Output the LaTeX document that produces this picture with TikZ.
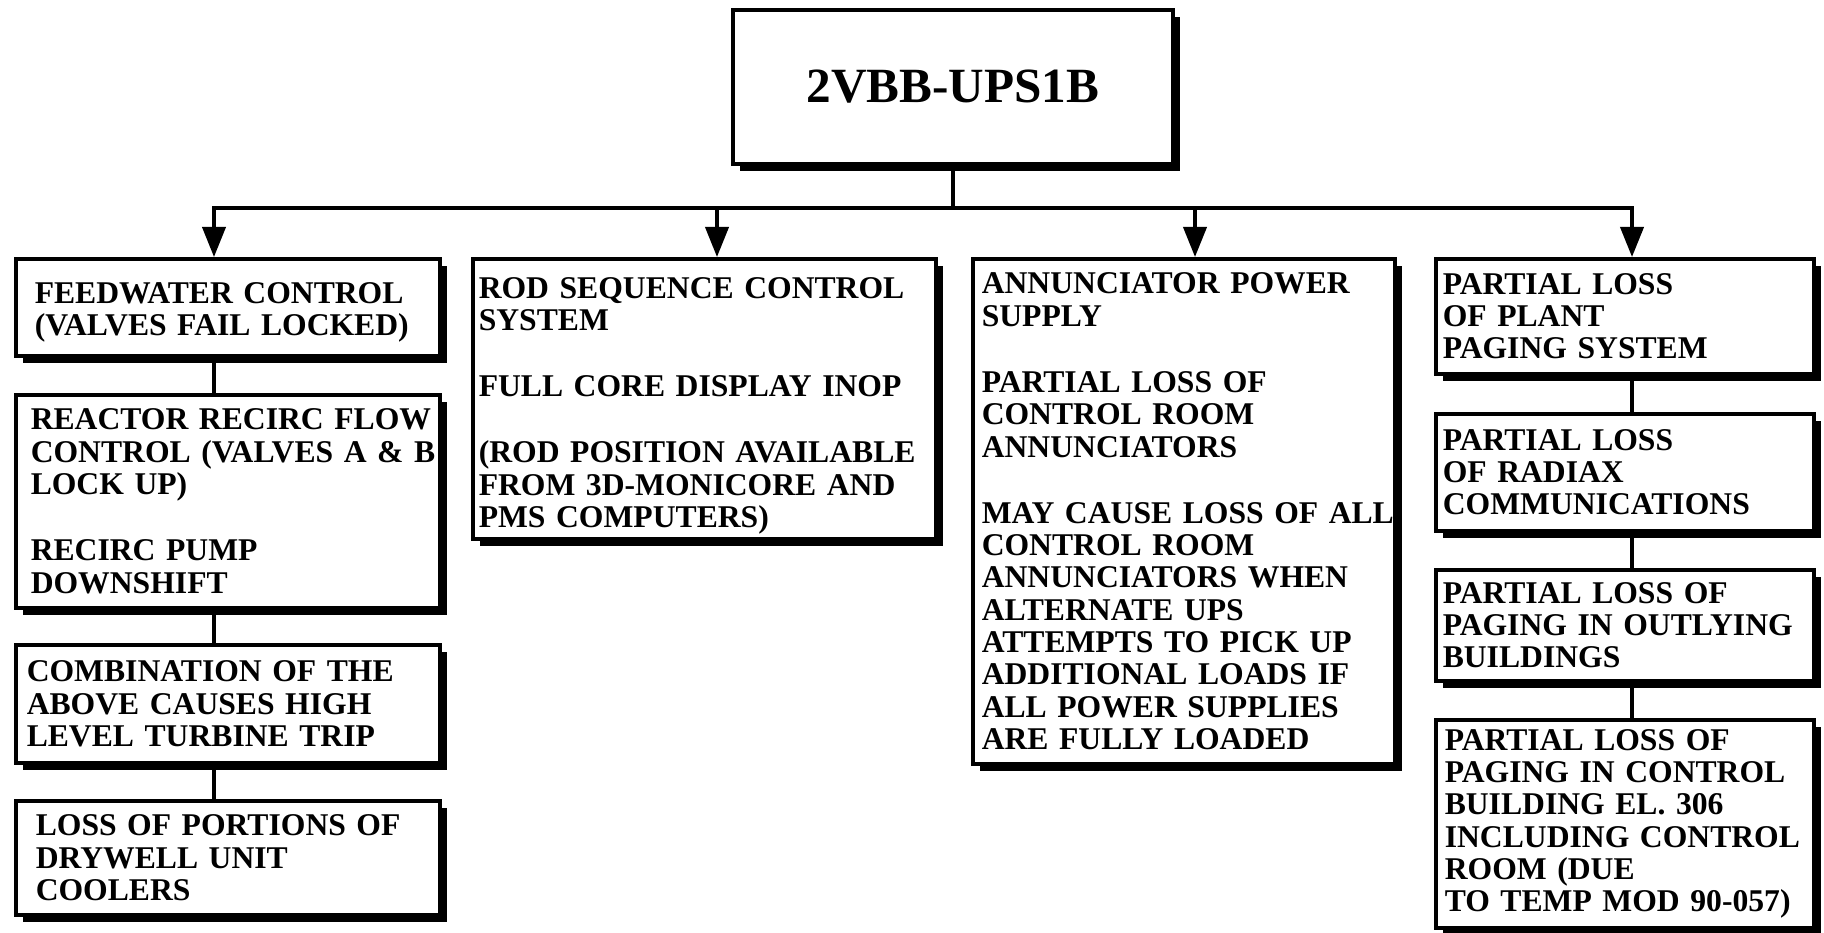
\documentclass[tikz,border=0pt]{standalone}
\usepackage{fontspec}
\setmainfont{Liberation Serif}
\usetikzlibrary{arrows.meta,shadows}

\begin{document}
\begin{tikzpicture}[x=0.01cm,y=-0.01cm,
  framed/.style={draw,line width=1pt,fill=white,anchor=north west,
    drop shadow={shadow xshift=0.07cm,shadow yshift=-0.07cm,opacity=1,fill=black}},
  effect/.style={framed,inner xsep=0pt,inner ysep=0pt,align=left,
    font=\fontsize{9}{9.2}\selectfont\bfseries},
  inset/.style={execute at begin node={\leftskip=#1\rightskip=-1cm plus 1fil}},
  link/.style={line width=1.1pt,line cap=rect},
  arr/.style={link,-{Triangle[length=0.3cm,width=0.23cm]}}]
  \useasboundingbox (0,0) rectangle (1824,932);
  % source
  \node[framed,minimum width=4.4cm,minimum height=1.54cm,
    font=\fontsize{14}{16}\selectfont\bfseries] (ups) at (731,8) {2VBB-UPS1B};
  % first column
  \node[effect,inset=0.19cm,text width=4.24cm,text height=8.8pt,minimum height=0.97cm] (feed) at (14,257)
    {FEEDWATER CONTROL\\(VALVES FAIL LOCKED)};
  \node[effect,inset=0.15cm,text width=4.24cm,minimum height=2.13cm] (recirc) at (14,393)
    {REACTOR RECIRC FLOW\\CONTROL (VALVES A \& B\\LOCK UP)\\[9.6pt]RECIRC PUMP\\DOWNSHIFT};
  \node[effect,inset=0.11cm,text width=4.24cm,minimum height=1.18cm] (combo) at (14,643)
    {COMBINATION OF THE\\ABOVE CAUSES HIGH\\LEVEL TURBINE TRIP};
  \node[effect,inset=0.2cm,text width=4.24cm,minimum height=1.14cm] (coolers) at (14,799)
    {LOSS OF PORTIONS OF\\DRYWELL UNIT\\COOLERS};
  % second column
  \node[effect,inset=0.06cm,text width=4.63cm,text height=9.9pt,minimum height=2.8cm] (rsc) at (471,257)
    {ROD SEQUENCE CONTROL\\SYSTEM\\[9.6pt]FULL CORE DISPLAY INOP\\[9.6pt](ROD POSITION AVAILABLE\\FROM 3D-MONICORE AND\\PMS COMPUTERS)};
  % third column
  \node[effect,inset=0.09cm,text width=4.22cm,minimum height=5.05cm] (annun) at (971,257)
    {ANNUNCIATOR POWER\\SUPPLY\\[9.6pt]PARTIAL LOSS OF\\CONTROL ROOM\\ANNUNCIATORS\\[9.6pt]MAY CAUSE LOSS OF ALL\\CONTROL ROOM\\ANNUNCIATORS WHEN\\ALTERNATE UPS\\ATTEMPTS TO PICK UP\\ADDITIONAL LOADS IF\\ALL POWER SUPPLIES\\ARE FULLY LOADED};
  % fourth column
  \node[effect,inset=0.07cm,text width=3.78cm,minimum height=1.15cm] (paging) at (1434,257)
    {PARTIAL LOSS\\OF PLANT\\PAGING SYSTEM};
  \node[effect,inset=0.07cm,text width=3.78cm,minimum height=1.17cm] (radiax) at (1434,412)
    {PARTIAL LOSS\\OF RADIAX\\COMMUNICATIONS};
  \node[effect,inset=0.07cm,text width=3.78cm,minimum height=1.11cm] (outlying) at (1434,568)
    {PARTIAL LOSS OF\\PAGING IN OUTLYING\\BUILDINGS};
  \node[effect,inset=0.09cm,text width=3.78cm,minimum height=2.08cm] (ctrlbldg) at (1434,718)
    {PARTIAL LOSS OF\\PAGING IN CONTROL\\BUILDING EL. 306\\INCLUDING CONTROL\\ROOM (DUE\\TO TEMP MOD 90-057)};
  % bus and connectors
  \coordinate (j1) at (214,208);
  \coordinate (j2) at (717,208);
  \coordinate (j3) at (1195,208);
  \coordinate (j4) at (1632,208);
  \draw[link] (ups.south) -- (ups.south |- j1);
  \draw[link] (j1) -- (j4);
  \foreach \j/\n in {j1/feed,j2/rsc,j3/annun,j4/paging}
    \draw[arr] (\j) -- (\j |- \n.north);
  \foreach \a/\b in {feed/recirc,recirc/combo,combo/coolers}
    \draw[link] (j1 |- \a.south) -- (j1 |- \b.north);
  \foreach \a/\b in {paging/radiax,radiax/outlying,outlying/ctrlbldg}
    \draw[link] (j4 |- \a.south) -- (j4 |- \b.north);
\end{tikzpicture}
\end{document}
